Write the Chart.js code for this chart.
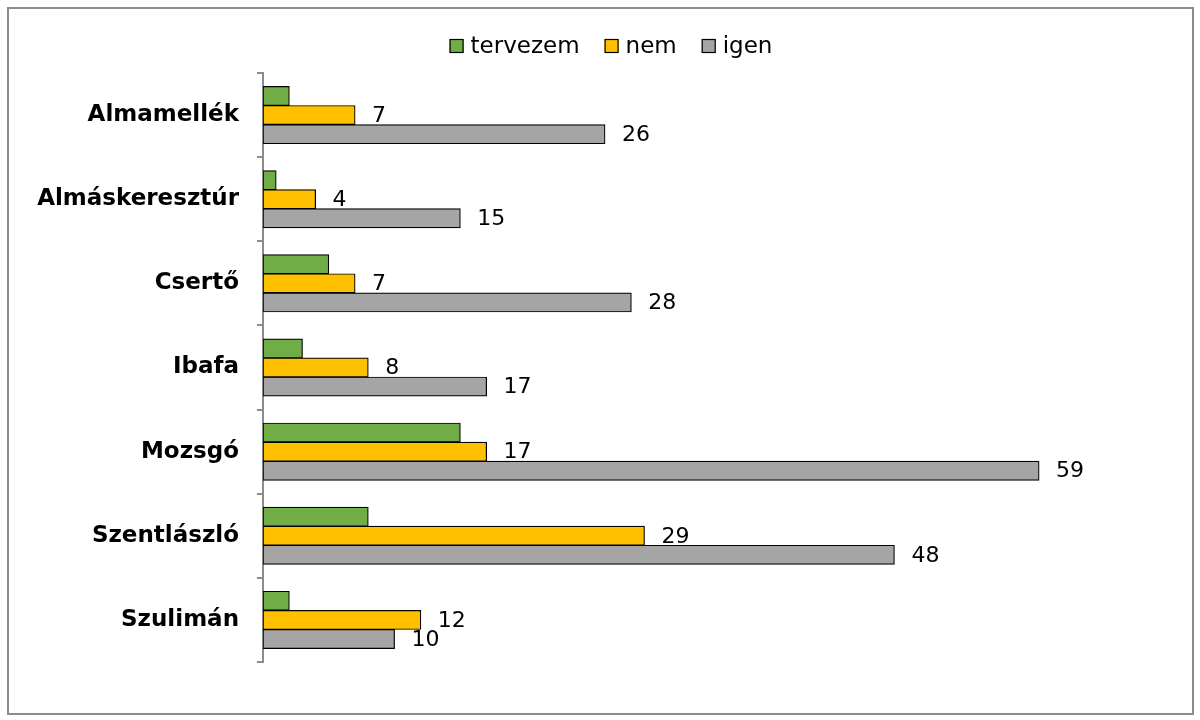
<!DOCTYPE html>
<html>
<head>
<meta charset="utf-8">
<script src="https://cdn.jsdelivr.net/npm/chart.js@4"></script>
<style>
  body { margin: 0; background: #fff; }
  #wrap { position: absolute; left: 0; top: 0; width: 1200px; height: 720px; }
  #frame { position: absolute; left: 7px; top: 7px; width: 1183px; height: 704px; border: 2px solid #8c8c8c; pointer-events: none; }
</style>
</head>
<body>
<div id="wrap">
  <canvas id="c" width="1200" height="720"></canvas>
  <div id="frame"></div>
</div>
<script>
// village names
var places = ['Almamellék', 'Almáskeresztúr', 'Csertő', 'Ibafa', 'Mozsgó', 'Szentlászló', 'Szulimán'];
// answers per village
var tervezem = [2, 1, 5, 3, 15, 8, 2];
var nem = [7, 4, 7, 8, 17, 29, 12];
var igen = [26, 15, 28, 17, 59, 48, 10];

var FONT = '"DejaVu Sans", Verdana, sans-serif';

// simple value labels next to the bars (no datalabels plugin here)
var valueLabels = {
  id: 'valueLabels',
  afterDatasetsDraw: function(chart) {
    var ctx = chart.ctx;
    ctx.save();
    ctx.font = '22px ' + FONT;
    ctx.fillStyle = '#000';
    ctx.textBaseline = 'middle';
    ctx.textAlign = 'left';
    chart.data.datasets.forEach(function(ds, i) {
      if (!ds.showLabels) return;
      var meta = chart.getDatasetMeta(i);
      meta.data.forEach(function(bar, j) {
        ctx.fillText(String(ds.data[j]), bar.x + 17, bar.y + 1);
      });
    });
    ctx.restore();
  }
};

// excel-like legend: small box, tight gap, centred at the top
var topLegend = {
  id: 'topLegend',
  afterDraw: function(chart) {
    var ctx = chart.ctx;
    var ds = chart.data.datasets;
    ctx.save();
    ctx.font = '23px ' + FONT;
    ctx.textBaseline = 'middle';
    var box = 14, gap = 7, space = 25;
    var total = 0;
    ds.forEach(function(d, i) {
      total += box + gap + ctx.measureText(d.label).width + (i < ds.length - 1 ? space : 0);
    });
    var x = 611 - total / 2, y = 46;
    ds.forEach(function(d) {
      ctx.fillStyle = d.backgroundColor;
      ctx.fillRect(x, y - box / 2, box, box);
      ctx.strokeStyle = '#000';
      ctx.lineWidth = 1.2;
      ctx.strokeRect(x + 0.5, y - box / 2 + 0.5, box - 1, box - 1);
      ctx.fillStyle = '#000';
      ctx.fillText(d.label, x + box + gap, y + 1);
      x += box + gap + ctx.measureText(d.label).width + space;
    });
    ctx.restore();
  }
};

new Chart(document.getElementById('c'), {
  type: 'bar',
  data: {
    labels: places,
    datasets: [
      { label: 'tervezem', data: tervezem, backgroundColor: '#70AD47', borderColor: '#000', borderWidth: 1.2, borderSkipped: false, showLabels: false },
      { label: 'nem', data: nem, backgroundColor: '#FFC000', borderColor: '#000', borderWidth: 1.2, borderSkipped: false, showLabels: true },
      { label: 'igen', data: igen, backgroundColor: '#A5A5A5', borderColor: '#000', borderWidth: 1.2, borderSkipped: false, showLabels: true }
    ]
  },
  options: {
    indexAxis: 'y',
    responsive: false,
    animation: false,
    datasets: { bar: { categoryPercentage: 0.68, barPercentage: 1.0, inflateAmount: 0.4 } },
    layout: { padding: { top: 73, bottom: 58, right: 82, left: 0 } },
    plugins: {
      legend: { display: false },
      tooltip: { enabled: false }
    },
    scales: {
      x: { display: false, min: 0, max: 65 },
      y: {
        afterFit: function(s) { s.width = 263; },
        grid: { drawOnChartArea: false, drawTicks: true, tickLength: 6, color: '#8c8c8c', lineWidth: 2 },
        border: { display: true, color: '#8c8c8c', width: 2 },
        ticks: { color: '#000', padding: 18, font: { family: FONT, size: 23, weight: 'bold' } }
      }
    }
  },
  plugins: [valueLabels, topLegend]
});
</script>
</body>
</html>
